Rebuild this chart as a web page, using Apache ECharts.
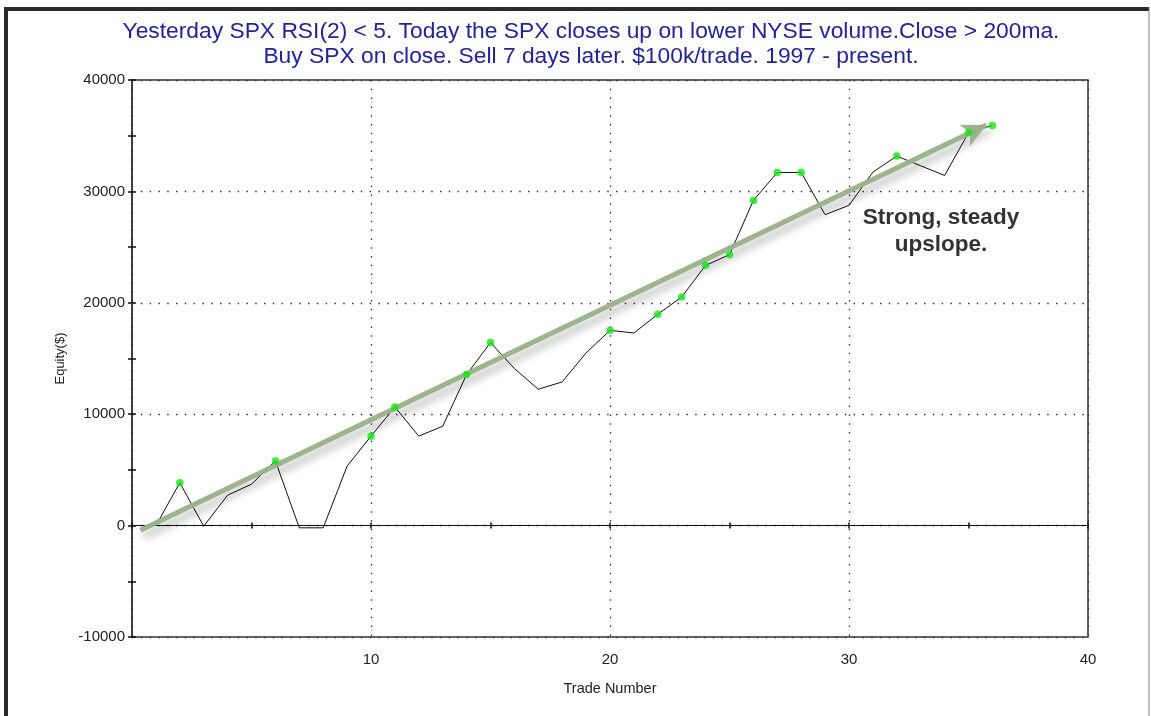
<!DOCTYPE html>
<html>
<head>
<meta charset="utf-8">
<script src="https://cdn.jsdelivr.net/npm/echarts@6/dist/echarts.min.js"></script>
<style>
html,body{margin:0;padding:0;background:#fff;}
#chart{width:1151px;height:716px;}
</style>
</head>
<body>
<div id="chart"></div>
<script>
// ---- data ----
const tradeNumbers = [1,2,3,4,5,6,7,8,9,10,11,12,13,14,15,16,17,18,19,20,21,22,23,24,25,26,27,28,29,30,31,32,33,34,35,36];
const equity = [0,3840,-50,2730,3720,5810,-200,-200,5340,8030,10650,8030,8920,13560,16430,14100,12240,12900,15500,17530,17290,18970,20520,23360,24320,29190,31700,31700,27910,28750,31730,33170,32300,31430,35260,35920];
const newHighTrades = [2,6,10,11,14,15,20,22,23,24,25,26,27,28,32,35,36];
const xTicks = [0, 40, 10];          // min, max, step
const yTicks = [-10000, 40000, 10000];
const trendArrow = [[0.35, -420], [35.75, 35950]];
const titleLines = ["Yesterday SPX RSI(2) < 5. Today the SPX closes up on lower NYSE volume.Close > 200ma.",
                    "Buy SPX on close. Sell 7 days later. $100k/trade. 1997 - present."];
const noteLines = ["Strong, steady", "upslope."];

const lineData = tradeNumbers.map((t, i) => [t, equity[i]]);
const dotData = newHighTrades.map(t => [t, equity[tradeNumbers.indexOf(t)]]);

const FONT = "'Liberation Sans', Arial, sans-serif";
const chart = echarts.init(document.getElementById('chart'), null, {renderer: 'canvas'});

const option = {
  animation: false,
  backgroundColor: '#fff',
  title: {
    text: titleLines.join('\n'),
    left: 586,
    textAlign: 'center',
    top: 14,
    textStyle: {fontFamily: FONT, fontSize: 22.8, fontWeight: 'normal', color: '#23239a', lineHeight: 25}
  },
  grid: {left: 132, top: 80, width: 956, height: 557, show: true, borderColor: '#333', borderWidth: 1.5, backgroundColor: 'transparent'},
  xAxis: [
    {
      type: 'value', min: xTicks[0], max: xTicks[1], interval: xTicks[2], position: 'bottom',
      axisLine: {show: false, onZero: false},
      axisTick: {show: false},
      axisLabel: {margin: 15, fontFamily: FONT, fontSize: 15, color: '#222', formatter: v => v === 0 ? '' : String(v)},
      splitLine: {show: true, lineStyle: {color: '#333', width: 1.3, type: [1.5, 7.3]}},
      name: 'Trade Number', nameLocation: 'middle', nameGap: 44,
      nameTextStyle: {fontFamily: FONT, fontSize: 14.5, color: '#222'}
    },
    {
      type: 'value', min: xTicks[0], max: xTicks[1], interval: 5, position: 'top',
      axisLine: {show: true, onZero: true, lineStyle: {color: '#111', width: 1}},
      axisTick: {show: true, inside: false, length: 3, lineStyle: {color: '#111', width: 1.5}},
      axisLabel: {show: false}, splitLine: {show: false}
    },
    {
      type: 'value', min: xTicks[0], max: xTicks[1], interval: 5, position: 'top',
      axisLine: {show: false, onZero: true},
      axisTick: {show: true, inside: true, length: 3, lineStyle: {color: '#111', width: 1.5}},
      axisLabel: {show: false}, splitLine: {show: false}
    }
  ],
  yAxis: [
    {
      type: 'value', min: yTicks[0], max: yTicks[1], interval: yTicks[2], position: 'left',
      axisLine: {show: true, onZero: false, lineStyle: {color: '#333', width: 1.5}},
      axisTick: {show: true, length: 4, lineStyle: {color: '#111', width: 1.5}},
      minorTick: {show: true, splitNumber: 2, length: 4, lineStyle: {color: '#111', width: 1.5}},
      axisLabel: {margin: 7, fontFamily: FONT, fontSize: 15, color: '#222', formatter: v => String(v)},
      splitLine: {show: true, lineStyle: {color: '#333', width: 1.3, type: [1.5, 7.3]}},
      name: 'Equity($)', nameLocation: 'middle', nameGap: 64, nameRotate: 90,
      nameTextStyle: {fontFamily: FONT, fontSize: 13, color: '#222'}
    },
    {
      type: 'value', min: yTicks[0], max: yTicks[1], interval: 5000, position: 'left',
      axisLine: {show: false, onZero: false},
      axisTick: {show: true, inside: true, length: 4, lineStyle: {color: '#111', width: 1.5}},
      axisLabel: {show: false}, splitLine: {show: false}
    }
  ],
  series: [
    {
      type: 'line', xAxisIndex: 0, yAxisIndex: 0, data: lineData,
      symbol: 'none', lineStyle: {color: '#111', width: 1}, z: 3,
      markLine: {
        silent: true, symbol: ['none', 'arrow'], symbolSize: [18, 24],
        label: {show: false},
        lineStyle: {color: '#97b188', width: 5, type: 'solid', opacity: 0.95,
          shadowColor: 'rgba(0,0,0,0.32)', shadowBlur: 8, shadowOffsetX: 3, shadowOffsetY: 6},
        data: [[{coord: trendArrow[0]}, {coord: trendArrow[1]}]]
      }
    },
    {
      type: 'scatter', xAxisIndex: 0, yAxisIndex: 0, data: dotData,
      symbol: 'circle', symbolSize: 7.5, itemStyle: {color: '#14e614'}, z: 5
    }
  ],
  graphic: [
    {type: 'rect', shape: {x: 4, y: 7, width: 1145, height: 4}, style: {fill: '#2a2a2a'}, silent: true},
    {type: 'rect', shape: {x: 4, y: 7, width: 4, height: 709}, style: {fill: '#2a2a2a'}, silent: true},
    {type: 'rect', shape: {x: 1148.5, y: 7, width: 1, height: 709}, style: {fill: '#888'}, silent: true},
    {type: 'text', x: 941, y: 204,
      style: {text: noteLines.join('\n'), fontFamily: FONT, fontSize: 22.5, fontWeight: 'bold', fill: '#333',
        lineHeight: 27, textAlign: 'center',
        shadowColor: 'rgba(0,0,0,0.25)', shadowBlur: 3, shadowOffsetX: 1, shadowOffsetY: 1}}
  ]
};
chart.setOption(option);
</script>
</body>
</html>
